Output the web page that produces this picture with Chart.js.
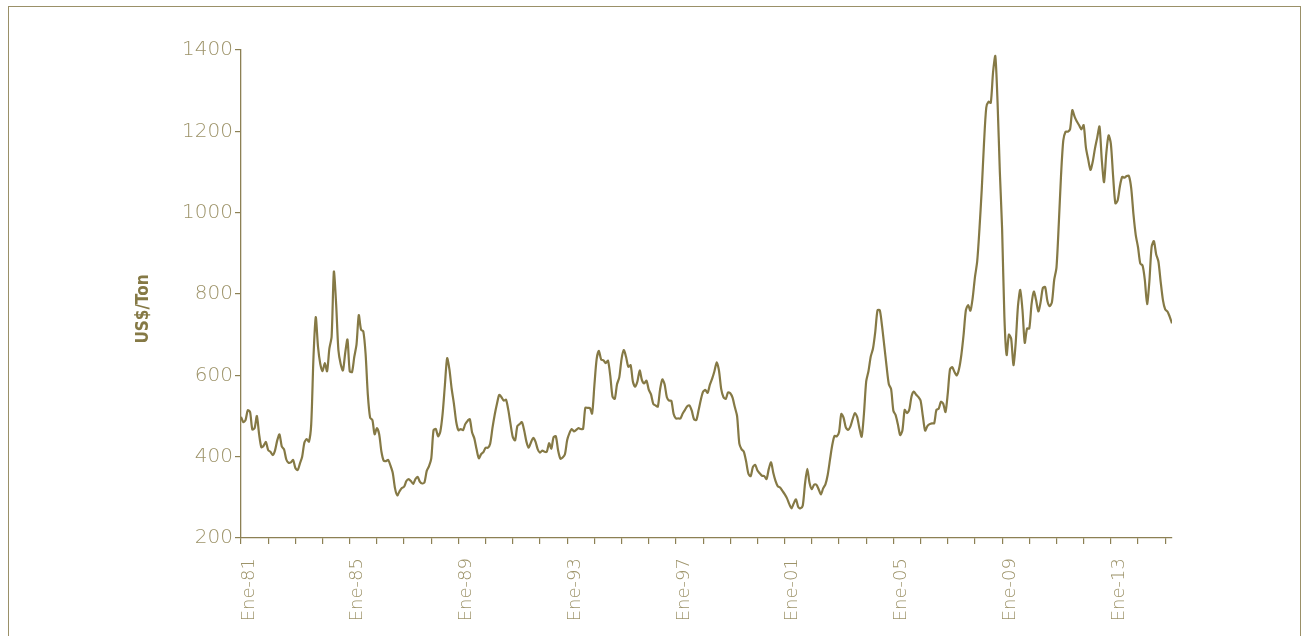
<!DOCTYPE html>
<html>
<head>
<meta charset="utf-8">
<script src="https://cdn.jsdelivr.net/npm/chart.js@4/dist/chart.umd.min.js"></script>
<style>
  html, body { margin: 0; padding: 0; background: #ffffff; }
  #wrap { position: relative; width: 1301px; height: 636px; overflow: hidden; }
  #frame { position: absolute; left: 8px; top: 6px; width: 1293px; height: 700px;
           box-sizing: border-box; border: 1.5px solid #9a9068; border-bottom: none; }
  canvas { position: absolute; left: 0; top: 0; }
</style>
</head>
<body>
<div id="wrap">
  <div id="frame"></div>
  <canvas id="c" width="1301" height="636"></canvas>
</div>
<script>
// Monthly prices (US$/Ton), starting January 1981
const startYear = 1981;
const values1980s = [
  498, 485, 490, 514, 510, 467, 470, 500, 455, 423, 427, 436,
  416, 412, 404, 415, 440, 455, 425, 418, 393, 385, 386, 392,
  372, 367, 383, 400, 435, 443, 437, 480, 645, 743, 670, 628,
  610, 630, 610, 665, 695, 855, 775, 662, 628, 612, 655, 688,
  610, 608, 645, 676, 748, 712, 708, 653, 552, 496, 490, 455,
  470, 455, 412, 390, 389, 392, 378, 360, 322, 305, 315, 323,
  326, 340, 345, 340, 333, 345, 350, 338, 334, 337, 365, 377,
  396, 465, 468, 450, 462, 505, 575, 642, 615, 567, 530, 486,
  465, 468, 465, 480, 488, 492, 460, 445, 418, 396, 406, 411
];
const values1990s = [
  422, 422, 432, 470, 503, 530, 552, 546, 538, 540, 515, 480,
  448, 440, 475, 480, 485, 465, 437, 422, 435, 446, 437, 418,
  410, 415, 412, 412, 433, 420, 448, 450, 415, 395, 398, 406,
  441, 458, 468, 462, 466, 470, 468, 468, 520, 520, 520, 506,
  575, 640, 660, 639, 637, 630, 636, 600, 548, 542, 578, 595,
  640, 662, 645, 621, 625, 585, 572, 585, 612, 588, 580, 587,
  565, 553, 530, 526, 523, 565, 590, 578, 546, 538, 537, 505,
  494, 494, 494, 506, 515, 524, 526, 513, 492, 490, 514, 540,
  560, 564, 557, 577, 592, 610, 632, 612, 566, 546, 542, 558,
  556, 545, 522, 500, 432, 418, 412, 388, 358, 352, 375, 380
];
const values2000s = [
  366, 359, 353, 352, 345, 370, 386, 360, 340, 327, 324, 316,
  308, 298, 284, 273, 285, 295, 276, 273, 280, 334, 370, 335,
  320, 331, 331, 320, 307, 322, 332, 355, 392, 428, 451, 450,
  460, 505, 496, 472, 466, 474, 492, 507, 498, 470, 449, 505,
  585, 610, 646, 666, 707, 760, 760, 721, 672, 622, 578, 566,
  513, 502, 479, 453, 465, 515, 507, 515, 548, 560, 553, 547,
  538, 500, 464, 475, 480, 482, 482, 515, 518, 535, 530, 510,
  555, 615, 620, 608, 600, 616, 650, 700, 760, 773, 759, 790,
  841, 880, 960, 1056, 1170, 1258, 1273, 1270, 1345, 1385, 1270, 1100,
  960, 745, 650, 700, 690, 625, 680, 770, 810, 760, 680, 715
];
const values2010s = [
  715, 775, 806, 785, 757, 780, 815, 817, 783, 770, 780, 835,
  865, 970, 1090, 1177, 1199, 1199, 1205, 1252, 1236, 1224, 1215, 1205,
  1215, 1160, 1131, 1105, 1125, 1158, 1185, 1212, 1130, 1075, 1146, 1190,
  1170, 1090, 1023, 1030, 1065, 1088, 1086, 1090, 1090, 1060, 995, 945,
  915, 875, 870, 835, 775, 830, 916, 930, 898, 880, 830, 785,
  762, 757, 744, 728
];
const tickLabels = ["Ene-81", "Ene-85", "Ene-89", "Ene-93", "Ene-97", "Ene-01", "Ene-05", "Ene-09", "Ene-13"];
const yTicks = [200, 400, 600, 800, 1000, 1200, 1400];
const yTitle = "US$/Ton";

const allValues = [].concat(values1980s, values1990s, values2000s, values2010s);
const points = allValues.map((v, i) => ({ x: i, y: v }));

const lineColor = '#857945';
const axisColor = '#8c8054';
const textColor = '#9d9369';
const yFont = { family: "'DejaVu Sans ExtraLight', 'DejaVu Sans'", weight: 200, size: 20 };
const xFont = { family: "'DejaVu Sans ExtraLight', 'DejaVu Sans'", weight: 200, size: 18 };

const yTitlePlugin = {
  id: 'yTitle',
  afterDraw(chart) {
    const c = chart.ctx;
    c.save();
    c.translate(144, 309);
    c.rotate(-Math.PI / 2);
    c.font = "bold 17px 'DejaVu Sans Condensed', 'DejaVu Sans'";
    c.fillStyle = lineColor;
    c.textAlign = 'center';
    c.textBaseline = 'middle';
    c.fillText(yTitle, 0, 0);
    c.restore();
  }
};

new Chart(document.getElementById('c'), {
  type: 'line',
  data: {
    datasets: [{
      data: points,
      borderColor: lineColor,
      borderWidth: 2.2,
      pointRadius: 0,
      tension: 0.25,
      fill: false
    }]
  },
  options: {
    responsive: false,
    animation: false,
    layout: { padding: { top: 50, right: 129, left: 0, bottom: 0 } },
    plugins: { legend: { display: false }, tooltip: { enabled: false } },
    scales: {
      x: {
        type: 'linear',
        min: 0,
        max: allValues.length - 1,
        afterFit: (s) => { s.height = 98; },
        border: { color: axisColor, width: 1.3 },
        grid: { drawOnChartArea: false, drawTicks: true, tickLength: 6, color: axisColor, lineWidth: 1.2 },
        ticks: {
          stepSize: 12,
          includeBounds: false,
          autoSkip: false,
          maxRotation: 90,
          minRotation: 90,
          padding: 14,
          labelOffset: 8,
          color: textColor,
          font: xFont,
          callback: (v) => (v % 48 === 0 ? (tickLabels[v / 48] || '') : '')
        }
      },
      y: {
        min: yTicks[0],
        max: yTicks[yTicks.length - 1],
        afterFit: (s) => { s.width = 241; },
        afterBuildTicks: (s) => { s.ticks = yTicks.map(v => ({ value: v })); },
        border: { color: axisColor, width: 1.3 },
        grid: { drawOnChartArea: false, drawTicks: true, tickLength: 6, color: axisColor, lineWidth: 1.2 },
        ticks: {
          padding: 2,
          color: textColor,
          font: yFont,
          callback: (v) => String(v)
        }
      }
    }
  },
  plugins: [yTitlePlugin]
});
</script>
</body>
</html>
